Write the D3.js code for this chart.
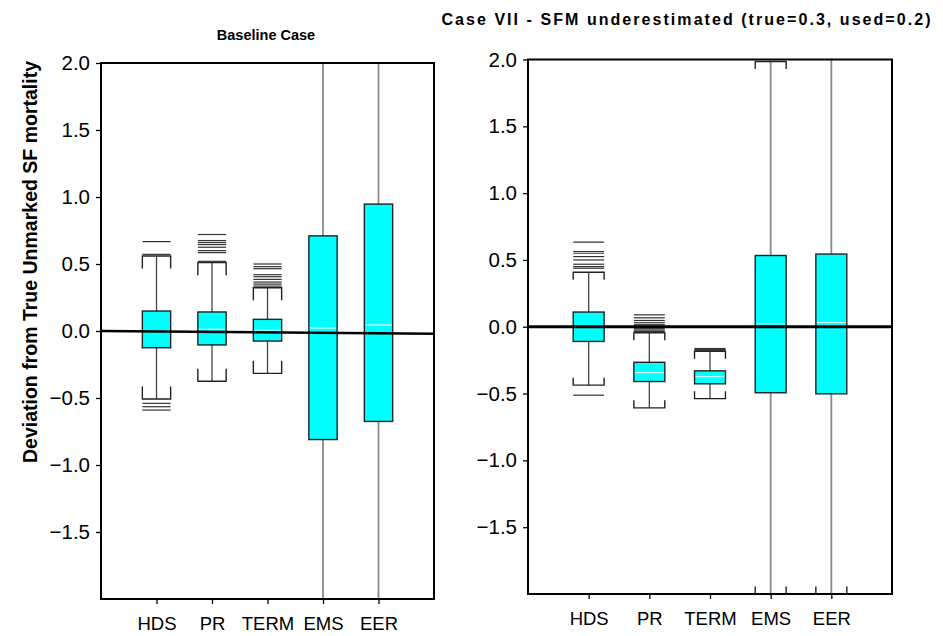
<!DOCTYPE html>
<html>
<head>
<meta charset="utf-8">
<script src="https://cdn.jsdelivr.net/npm/d3@7"></script>
<style>
  html, body { margin: 0; padding: 0; background: #fff; }
  svg { display: block; font-family: "Liberation Sans", Arial, sans-serif; }
</style>
</head>
<body>
<svg id="chart" width="943" height="636"></svg>
<script>
// Methods compared
const categories = ["HDS", "PR", "TERM", "EMS", "EER"];
const yTickValues = [2.0, 1.5, 1.0, 0.5, 0.0, -0.5, -1.0, -1.5];

// Baseline case: box summaries per method
const baseQ1 = [-0.125, -0.104, -0.075, -0.81, -0.675];
const baseMedian = [0.0, 0.013, 0.007, 0.022, 0.045];
const baseQ3 = [0.149, 0.142, 0.087, 0.71, 0.947];
const baseLowWhisker = [-0.507, -0.375, -0.316, -2.3, -2.3];
const baseHighWhisker = [0.56, 0.51, 0.323, 2.3, 2.3];
const baseOutliers = [
  [0.667, 0.572, -0.54, -0.565, -0.59],
  [0.72, 0.675, 0.66, 0.645, 0.625, 0.6, 0.585, 0.52],
  [0.5, 0.48, 0.465, 0.42, 0.405, 0.385, 0.365, 0.35, 0.335],
  [],
  []
];
const baseZeroLine = [0.0, -0.02];

// Case VII: SFM underestimated (true = 0.3, used = 0.2)
const caseQ1 = [-0.11, -0.41, -0.427, -0.494, -0.502];
const caseMedian = [0.0, -0.344, -0.374, 0.022, 0.031];
const caseQ3 = [0.11, -0.266, -0.33, 0.533, 0.544];
const caseLowWhisker = [-0.437, -0.607, -0.538, -2.0, -2.0];
const caseHighWhisker = [0.408, -0.045, -0.183, 1.985, 2.3];
const caseOutliers = [
  [0.633, 0.563, 0.55, 0.525, 0.5, 0.468, 0.45, 0.438, -0.512],
  [0.089, 0.067, 0.047, 0.03, 0.015, 0.005, -0.005, -0.015, -0.025, -0.035],
  [-0.163, -0.168, -0.173, -0.178],
  [],
  []
];
const caseZeroLine = [0.0, 0.0];

const svg = d3.select("#chart");

function drawPanel(opts) {
  const { id, x0, x1, y0, y1, q1, med, q3, lo, hi, outliers, zero, title, capEar, zeroWidth } = opts;

  const x = d3.scalePoint().domain(categories).range([x0, x1]).padding(1);
  const y = d3.scaleLinear().domain([-2, 2]).range([y1, y0]);
  const boxW = x.step() * 0.51;

  const rows = categories.map((c, i) => ({
    c, q1: q1[i], med: med[i], q3: q3[i], lo: lo[i], hi: hi[i], out: outliers[i]
  }));

  svg.append("clipPath").attr("id", id)
    .append("rect")
    .attr("x", x0).attr("y", y0 - 1)
    .attr("width", x1 - x0).attr("height", y1 - y0 + 2);

  const g = svg.append("g").attr("clip-path", `url(#${id})`);

  // whiskers
  g.selectAll(".whisker").data(rows).join("line")
    .attr("x1", d => x(d.c)).attr("x2", d => x(d.c))
    .attr("y1", d => y(d.lo)).attr("y2", d => y(d.hi))
    .attr("stroke", d => (d.hi > 1.5 ? "#8a8a8a" : "#444"))
    .attr("stroke-width", d => (d.hi > 1.5 ? 1.8 : 1.3));

  // bracket-shaped caps, ears pointing toward the box
  const cap = (d, v, dir) => {
    const l = x(d.c) - boxW / 2, r = x(d.c) + boxW / 2, yy = y(v);
    return `M${l},${yy + dir * capEar}V${yy}H${r}V${yy + dir * capEar}`;
  };
  g.selectAll(".capHi").data(rows).join("path")
    .attr("d", d => cap(d, d.hi, 1))
    .attr("fill", "none").attr("stroke", "#222").attr("stroke-width", 1.4);
  g.selectAll(".capLo").data(rows).join("path")
    .attr("d", d => cap(d, d.lo, -1))
    .attr("fill", "none").attr("stroke", "#222").attr("stroke-width", 1.4);

  // outliers as short horizontal dashes
  const outs = rows.flatMap(d => d.out.map(v => ({ c: d.c, v })));
  g.selectAll(".outlier").data(outs).join("line")
    .attr("x1", d => x(d.c) - boxW / 2).attr("x2", d => x(d.c) + boxW / 2)
    .attr("y1", d => y(d.v)).attr("y2", d => y(d.v))
    .attr("stroke", "#333").attr("stroke-width", 1.2);

  // boxes
  g.selectAll(".box").data(rows).join("rect")
    .attr("x", d => x(d.c) - boxW / 2).attr("width", boxW)
    .attr("y", d => y(d.q3)).attr("height", d => y(d.q1) - y(d.q3))
    .attr("fill", "#00ffff").attr("stroke", "#222").attr("stroke-width", 1.4);

  // medians
  g.selectAll(".median").data(rows).join("line")
    .attr("x1", d => x(d.c) - boxW / 2 + 1).attr("x2", d => x(d.c) + boxW / 2 - 1)
    .attr("y1", d => y(d.med)).attr("y2", d => y(d.med))
    .attr("stroke", "#fff").attr("stroke-width", 1);

  // zero reference line
  svg.append("line")
    .attr("x1", x0).attr("x2", x1)
    .attr("y1", y(zero[0])).attr("y2", y(zero[1]))
    .attr("stroke", "#000").attr("stroke-width", zeroWidth);

  // frame
  svg.append("rect")
    .attr("x", x0).attr("y", y0).attr("width", x1 - x0).attr("height", y1 - y0)
    .attr("fill", "none").attr("stroke", "#000").attr("stroke-width", 2);

  // y axis
  const yAxis = d3.axisLeft(y).tickValues(yTickValues)
    .tickFormat(d3.format(".1f")).tickSize(5).tickPadding(6);
  const ya = svg.append("g").attr("transform", `translate(${x0},0)`).call(yAxis);
  ya.select(".domain").remove();
  ya.selectAll(".tick line").attr("stroke", "#000").attr("stroke-width", 1.3);
  ya.selectAll(".tick text")
    .attr("font-size", 20.5).attr("fill", "#000")
    .attr("font-family", "'Liberation Sans', Arial, sans-serif");

  // x axis
  const xAxis = d3.axisBottom(x).tickSize(5).tickPadding(13);
  const xa = svg.append("g").attr("transform", `translate(0,${y1})`).call(xAxis);
  xa.select(".domain").remove();
  xa.selectAll(".tick line").attr("stroke", "#000").attr("stroke-width", 1.3);
  xa.selectAll(".tick text")
    .attr("font-size", 18.5).attr("fill", "#000")
    .attr("font-family", "'Liberation Sans', Arial, sans-serif");

  // title
  svg.append("text")
    .attr("x", title.x).attr("y", title.y)
    .attr("text-anchor", "middle")
    .style("font-weight", "bold")
    .style("font-size", title.size + "px")
    .style("letter-spacing", title.spacing + "px")
    .text(title.text);
}

drawPanel({
  id: "clipBase", x0: 101, x1: 434, y0: 63, y1: 599,
  q1: baseQ1, med: baseMedian, q3: baseQ3, lo: baseLowWhisker, hi: baseHighWhisker,
  outliers: baseOutliers, zero: baseZeroLine, capEar: 12.5, zeroWidth: 2.5,
  title: { text: "Baseline Case", x: 266, y: 40, size: 14.5, spacing: 0 }
});

drawPanel({
  id: "clipCase", x0: 528, x1: 892, y0: 59.5, y1: 594,
  q1: caseQ1, med: caseMedian, q3: caseQ3, lo: caseLowWhisker, hi: caseHighWhisker,
  outliers: caseOutliers, zero: caseZeroLine, capEar: 7.5, zeroWidth: 3,
  title: { text: "Case VII - SFM underestimated (true=0.3, used=0.2)", x: 687, y: 25, size: 16, spacing: 2.05 }
});

// shared y axis title
svg.append("text")
  .attr("transform", "translate(37,262) rotate(-90)")
  .attr("text-anchor", "middle")
  .style("font-weight", "bold").style("font-size", "19.5px")
  .text("Deviation from True Unmarked SF mortality");
</script>
</body>
</html>
